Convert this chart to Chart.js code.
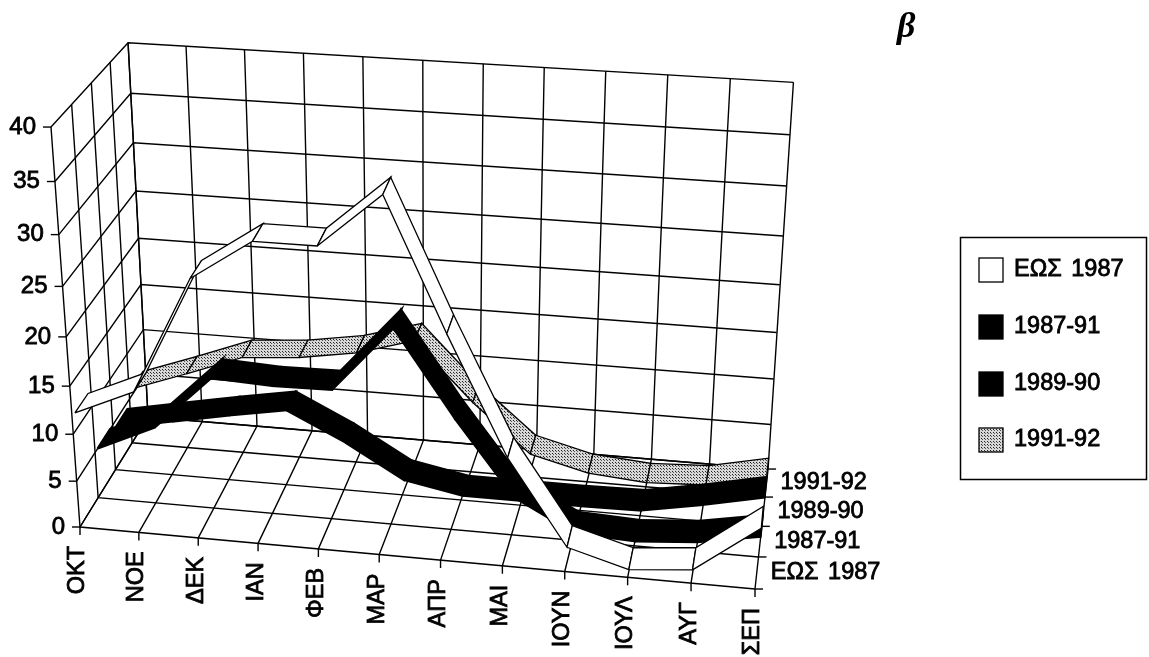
<!DOCTYPE html>
<html>
<head>
<meta charset="utf-8">
<style>
  html, body { margin: 0; padding: 0; background: #fff; }
  canvas { display: block; }
</style>
<script src="https://cdn.jsdelivr.net/npm/chart.js@4"></script>
</head>
<body>
<canvas id="chart" width="1149" height="657"></canvas>
<script>
const categories = ["ΟΚΤ", "ΝΟΕ", "ΔΕΚ", "ΙΑΝ", "ΦΕΒ", "ΜΑΡ", "ΑΠΡ", "ΜΑΙ", "ΙΟΥΝ", "ΙΟΥΛ", "ΑΥΓ", "ΣΕΠ"];
const valueTicks = [0, 5, 10, 15, 20, 25, 30, 35, 40];
const seriesNames = ["ΕΩΣ 1987", "1987-91", "1989-90", "1991-92"];

const eos1987 = [11.8, 14.5, 26.3, 30.3, 30.3, 35.5, 22.8, 10.9, 2.1, 0.3, 0.9, 5.9];
const y1987_91 = [5, 7.8, 13.6, 13.3, 13.4, 20.2, 11.5, 3.6, 0.3, 0, 0.5, 1.7];
const y1989_90 = [4.3, 5.5, 6.7, 7.8, 4.8, 1.2, 0, 0, 0, 0.1, 1.3, 2.7];
const y1991_92 = [5.7, 7.9, 10.2, 10.7, 11.7, 13.5, 7.3, 2.1, 0.5, 0, 0.3, 1.7];

const MAX_VALUE = 40;
const DEPTH_CELLS = 4;
const RIBBON_INSET = 0.15;

// stipple used by the last series
function stipple() {
  const c = document.createElement("canvas");
  c.width = 3;
  c.height = 3;
  const g = c.getContext("2d");
  g.fillStyle = "#d8d8d8";
  g.fillRect(0, 0, 3, 3);
  g.fillStyle = "#222";
  g.fillRect(0, 0, 1, 1);
  g.fillStyle = "#555";
  g.fillRect(1, 1, 1, 1);
  return g.createPattern(c, "repeat");
}

const seriesValues = [eos1987, y1987_91, y1989_90, y1991_92];
const seriesFills = ["#ffffff", "#000000", "#000000", stipple()];
const seriesEdges = [1.3, 2.4, 2.4, 1.3];

// perspective box: month, value and depth to screen units
function project(month, value, depth) {
  const m = month / (categories.length - 1);
  const v = value / MAX_VALUE;
  const d = depth / DEPTH_CELLS;
  const w = 1 - 0.0445 * m - 0.094 * v + 0.0896 * d;
  return {
    x: (80 + 641.4 * m - 33.8 * v + 81.3 * d) / w - 15 * m * v * d,
    y: (527 + 35.8 * m - 411.9 * v - 72.6 * d) / w,
  };
}

const datasets = [];

function addPath(points, fill, lineWidth) {
  datasets.push({
    data: points,
    order: -datasets.length,
    showLine: true,
    tension: 0,
    pointRadius: 0,
    borderColor: "#000",
    borderWidth: lineWidth,
    backgroundColor: fill || "transparent",
    fill: fill ? "shape" : false,
  });
}

const lastMonth = categories.length - 1;

// walls and floor
valueTicks.forEach((t) => {
  addPath([project(0, t, 0), project(0, t, DEPTH_CELLS), project(lastMonth, t, DEPTH_CELLS)], null, 1.4);
});
categories.forEach((c, i) => {
  addPath([project(i, MAX_VALUE, DEPTH_CELLS), project(i, 0, DEPTH_CELLS), project(i, 0, 0)], null, 1.4);
});
for (let d = 0; d <= DEPTH_CELLS; d++) {
  addPath([project(0, MAX_VALUE, d), project(0, 0, d), project(lastMonth, 0, d)], null, 1.4);
}

// tick stubs
const withOffset = (p, dx, dy) => ({ x: p.x + dx, y: p.y + dy });
valueTicks.forEach((t) => {
  const p = project(0, t, 0);
  addPath([p, withOffset(p, -8, 0)], null, 1.4);
});
categories.forEach((c, i) => {
  const p = project(i, 0, 0);
  addPath([p, withOffset(p, 0, 8)], null, 1.4);
});
for (let d = 0; d <= DEPTH_CELLS; d++) {
  const p = project(lastMonth, 0, d);
  addPath([p, withOffset(p, 8, 0)], null, 1.4);
}

// ribbons, back to front
for (let s = seriesValues.length - 1; s >= 0; s--) {
  const vals = seriesValues[s];
  const front = s + RIBBON_INSET;
  const back = s + 1 - RIBBON_INSET;
  for (let i = 0; i < lastMonth; i++) {
    addPath([
      project(i, vals[i], front),
      project(i + 1, vals[i + 1], front),
      project(i + 1, vals[i + 1], back),
      project(i, vals[i], back),
      project(i, vals[i], front),
    ], seriesFills[s], seriesEdges[s]);
  }
}

const FONT = '"Liberation Sans", Arial, sans-serif';

function boldText(ctx, text, x, y) {
  ctx.fillText(text, x, y);
  ctx.strokeText(text, x, y);
}

// axis labels, panel letter and key
const labelsPlugin = {
  id: "boxLabels",
  afterDraw(chart) {
    const { ctx, scales } = chart;
    const px = (p) => ({ x: scales.x.getPixelForValue(p.x), y: scales.y.getPixelForValue(p.y) });
    ctx.save();
    ctx.fillStyle = "#000";
    ctx.strokeStyle = "#000";
    ctx.lineWidth = 0.8;
    ctx.wordSpacing = "3px";

    ctx.font = "24px " + FONT;
    ctx.textAlign = "right";
    ctx.textBaseline = "middle";
    valueTicks.forEach((t) => {
      const p = px(project(0, t, 0));
      boldText(ctx, String(t), p.x - 15, p.y);
    });

    ctx.font = "23.5px " + FONT;
    categories.forEach((c, i) => {
      const p = px(project(i, 0, 0));
      ctx.save();
      ctx.translate(p.x - 2, p.y + 19);
      ctx.rotate(-Math.PI / 2);
      boldText(ctx, c, 0, 0);
      ctx.restore();
    });

    ctx.textAlign = "left";
    seriesNames.forEach((name, s) => {
      const p = px(project(lastMonth, 0, s + 0.5));
      boldText(ctx, name, p.x + 14, p.y);
    });

    // key
    ctx.lineWidth = 1.5;
    ctx.strokeRect(960.5, 237.5, 186, 242);
    const keyY = [258, 315, 372, 428];
    seriesNames.forEach((name, s) => {
      ctx.fillStyle = seriesFills[s];
      ctx.fillRect(979, keyY[s], 24, 24);
      ctx.lineWidth = 1.3;
      ctx.strokeRect(979, keyY[s], 24, 24);
      ctx.fillStyle = "#000";
      ctx.lineWidth = 0.8;
      boldText(ctx, name, 1014, keyY[s] + 12);
    });

    ctx.font = 'italic bold 36px "Liberation Serif", serif';
    ctx.textAlign = "left";
    ctx.textBaseline = "alphabetic";
    ctx.fillText("β", 897, 37);
    ctx.restore();
  },
};

new Chart(document.getElementById("chart"), {
  type: "scatter",
  data: { datasets },
  options: {
    responsive: false,
    animation: false,
    events: [],
    layout: { padding: 0 },
    plugins: { legend: { display: false }, tooltip: { enabled: false } },
    scales: {
      x: { type: "linear", display: false, min: 0, max: 1149 },
      y: { type: "linear", display: false, min: 0, max: 657, reverse: true },
    },
  },
  plugins: [labelsPlugin],
});
</script>
</body>
</html>
